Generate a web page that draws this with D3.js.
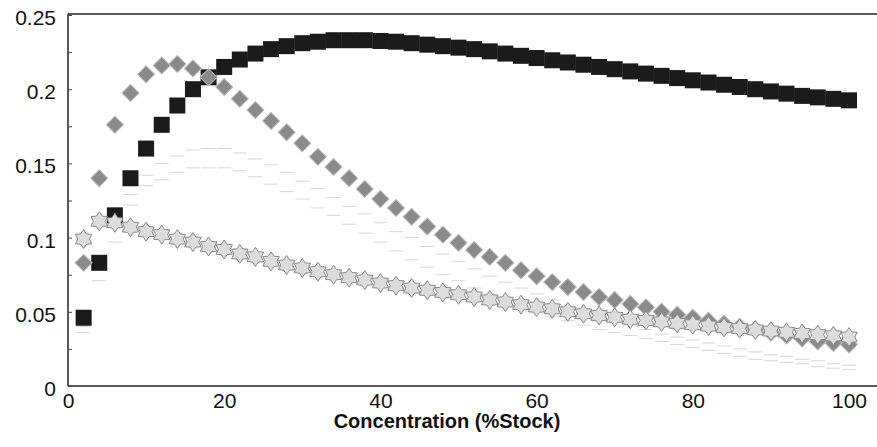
<!DOCTYPE html>
<html>
  <head>
	<meta charset="utf-8">
    <title>Concentration chart</title>
    <script src="https://cdn.jsdelivr.net/npm/d3@7"></script>
  	<style>
		body{
			margin:0;
			background:#fff;
		}
		svg{
			display:block;
		}
		.axis text {
		  font-family: "Liberation Sans", Arial, sans-serif;
		  font-size: 21px;
		  fill: #111;
		}
		.axis path {
		  display: none;
		}
		.title {
		  font-family: "Liberation Sans", Arial, sans-serif;
		  font-size: 20px;
		  font-weight: bold;
		  fill: #111;
		}
	</style>
  </head>
  <body>
    <div id="diagram"></div>
    <script>
	// concentrations (%Stock)
	var conc = [2,4,6,8,10,12,14,16,18,20,22,24,26,28,30,32,34,36,38,40,
		42,44,46,48,50,52,54,56,58,60,62,64,66,68,70,72,74,76,78,80,
		82,84,86,88,90,92,94,96,98,100];

	// black squares
	var squares = [0.046,0.083,0.115,0.140,0.160,0.176,0.189,0.200,0.208,0.215,
		0.220,0.224,0.227,0.229,0.231,0.232,0.233,0.233,0.233,0.2325,
		0.232,0.231,0.230,0.229,0.228,0.227,0.2255,0.224,0.2225,0.221,
		0.2195,0.218,0.2165,0.215,0.2135,0.212,0.2105,0.209,0.2075,0.206,
		0.2045,0.203,0.2015,0.200,0.1985,0.197,0.1955,0.1945,0.1935,0.1925];

	// grey diamonds
	var diamonds = [0.083,0.140,0.176,0.1975,0.210,0.216,0.217,0.214,0.208,0.2015,
		0.1935,0.186,0.1786,0.171,0.1635,0.1544,0.1476,0.140,0.1328,0.126,
		0.120,0.114,0.1075,0.102,0.0965,0.0917,0.087,0.083,0.078,0.074,
		0.070,0.0667,0.0634,0.060,0.058,0.0553,0.053,0.050,0.048,0.046,
		0.044,0.042,0.040,0.038,0.036,0.034,0.032,0.030,0.029,0.028];

	// light stars
	var stars = [0.099,0.111,0.110,0.107,0.104,0.102,0.099,0.097,0.094,0.092,
		0.089,0.087,0.084,0.0815,0.0795,0.077,0.075,0.073,0.0714,0.0694,
		0.0676,0.066,0.0645,0.063,0.0615,0.060,0.058,0.0566,0.0548,0.0532,
		0.052,0.050,0.0487,0.0475,0.0463,0.045,0.0442,0.0432,0.0422,0.0413,
		0.0404,0.0395,0.0387,0.0378,0.037,0.0362,0.0354,0.0346,0.0338,0.033];

	// faint dash markers (two series)
	var dashA = [0.040,0.079,0.110,0.129,0.142,0.150,0.155,0.159,0.160,0.160,
		0.157,0.153,0.149,0.144,0.138,0.133,0.127,0.121,0.116,0.110,
		0.104,0.100,0.094,0.089,0.084,0.079,0.074,0.070,0.066,0.062,
		0.058,0.054,0.050,0.047,0.044,0.041,0.038,0.035,0.033,0.031,
		0.029,0.027,0.025,0.023,0.021,0.020,0.018,0.017,0.015,0.014];
	var dashB = [0.036,0.071,0.097,0.122,0.135,0.139,0.144,0.147,0.147,0.147,
		0.145,0.141,0.136,0.131,0.126,0.120,0.115,0.109,0.103,0.097,
		0.091,0.085,0.080,0.075,0.071,0.066,0.062,0.058,0.054,0.050,
		0.047,0.044,0.041,0.038,0.036,0.034,0.032,0.030,0.028,0.026,
		0.024,0.022,0.020,0.018,0.017,0.016,0.015,0.013,0.012,0.011];

	var xTicks = [0,20,40,60,80,100];
	var yTicks = [0,0.05,0.1,0.15,0.2,0.25];
	var yMinor = [0,0.025,0.05,0.075,0.1,0.125,0.15,0.175,0.2,0.225,0.25];
	var xTitle = "Concentration (%Stock)";

	var width = 877, height = 447;
	//plot box (don't call it top, window.top is taken)
	var pLeft = 68, pTop = 15, pBottom = 386, pRight = 877;

	var x = d3.scaleLinear().domain([0,100]).range([pLeft,849]);
	var y = d3.scaleLinear().domain([0,0.25]).range([pBottom,pTop]);

	var svg = d3.select("#diagram").append("svg")
		.attr("width",width)
		.attr("height",height);

	svg.append("rect").attr("width",width).attr("height",height).attr("fill","#fff");

	//zip a series with the concentrations
	function pts(vals){
		return vals.map(function(v,i){return {x:conc[i], y:v};});
	}

	//6 point star, size is used as outer radius
	var star6 = {
		draw: function(ctx, r){
			for(var i=0;i<12;i++){
				var a = i*Math.PI/6 - Math.PI/2;
				var rr = (i%2==0) ? r : r*0.62;
				if(i==0) ctx.moveTo(rr*Math.cos(a), rr*Math.sin(a));
				else ctx.lineTo(rr*Math.cos(a), rr*Math.sin(a));
			}
			ctx.closePath();
		}
	};

	//faint dashes first
	[dashA,dashB].forEach(function(s){
		svg.append("g").selectAll("line")
			.data(pts(s))
			.enter().append("line")
			.attr("x1",function(d){return x(d.x)-7;})
			.attr("x2",function(d){return x(d.x)+7;})
			.attr("y1",function(d){return y(d.y);})
			.attr("y2",function(d){return y(d.y);})
			.attr("stroke","#999")
			.attr("stroke-opacity",0.4)
			.attr("stroke-width",1);
	});

	//squares (big enough to run into each other)
	var sq = 16;
	svg.append("g").selectAll("rect")
		.data(pts(squares))
		.enter().append("rect")
		.attr("x",function(d){return x(d.x)-sq/2;})
		.attr("y",function(d){return y(d.y)-sq/2;})
		.attr("width",sq)
		.attr("height",sq)
		.attr("fill","#1b1b1b");

	//diamonds = rotated squares
	svg.append("g").selectAll("rect")
		.data(pts(diamonds))
		.enter().append("rect")
		.attr("x",-6)
		.attr("y",-6)
		.attr("width",12)
		.attr("height",12)
		.attr("transform",function(d){return "translate("+x(d.x)+","+y(d.y)+") rotate(45)";})
		.attr("fill","#8a8a8a")
		.attr("stroke","#b8b8b8")
		.attr("stroke-width",1);

	//stars
	svg.append("g").selectAll("path")
		.data(pts(stars))
		.enter().append("path")
		.attr("d",d3.symbol().type(star6).size(9.5))
		.attr("transform",function(d){return "translate("+x(d.x)+","+y(d.y)+")";})
		.attr("fill","#dcdcdc")
		.attr("stroke","#8a8a8a")
		.attr("stroke-width",1);

	//frame: left, top, bottom
	var frame = svg.append("g").attr("stroke","#222").attr("stroke-width",1.5).attr("fill","none");
	frame.append("line").attr("x1",pLeft).attr("x2",pLeft).attr("y1",pTop-1).attr("y2",pBottom);
	frame.append("line").attr("x1",pLeft).attr("x2",pRight).attr("y1",pTop-1).attr("y2",pTop-1);
	frame.append("line").attr("x1",pLeft).attr("x2",pRight).attr("y1",pBottom).attr("y2",pBottom);

	//small inward ticks on y
	svg.append("g")
		.attr("transform","translate("+pLeft+",0)")
		.call(d3.axisRight(y).tickValues(yMinor).tickSize(4).tickFormat(""))
		.call(function(g){g.select(".domain").remove();})
		.selectAll("line").attr("stroke","#444");

	//y labels
	svg.append("g")
		.attr("class","axis")
		.attr("transform","translate("+pLeft+",0)")
		.call(d3.axisLeft(y).tickValues(yTicks).tickSize(0).tickPadding(12)
			.tickFormat(function(d){return String(d);}))
		.selectAll("text").attr("dy","0.45em");

	//x labels
	svg.append("g")
		.attr("class","axis")
		.attr("transform","translate(0,"+pBottom+")")
		.call(d3.axisBottom(x).tickValues(xTicks).tickSize(0).tickPadding(7));

	svg.append("text")
		.attr("class","title")
		.attr("x",447)
		.attr("y",428)
		.attr("text-anchor","middle")
		.text(xTitle);
	</script>
  </body>
</html>
